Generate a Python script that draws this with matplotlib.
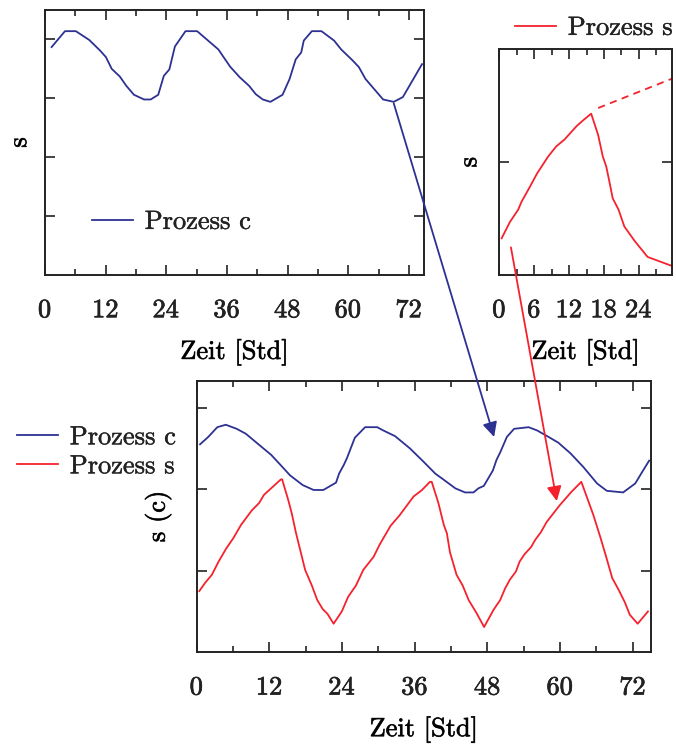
import numpy as np
import matplotlib
matplotlib.use("Agg")
import matplotlib.pyplot as plt
import matplotlib.patheffects as pe
from matplotlib.ticker import MultipleLocator
from matplotlib.patches import ConnectionPatch

# Prozess c, 72 h run (upper left panel)
zeit_c_oben = [1.3, 3.95, 6.1, 8.76, 10.9, 12.05, 13.2, 14.8, 16.1, 17.6, 19.6, 20.9,
               22.4, 23.5, 24.6, 25.7, 27.8, 30.1, 34.3, 36.6, 38.5, 40.4, 41.7, 43.1,
               44.6, 47.0, 48.4, 49.6, 50.7, 51.2, 52.8, 54.7, 57.2, 58.6, 60.9, 62.1,
               63.4, 64.8, 66.9, 69.0, 70.8, 74.6]
s_c_oben = [3.87, 4.14, 4.14, 3.99, 3.81, 3.70, 3.50, 3.37, 3.21, 3.06, 2.98, 2.98,
            3.06, 3.38, 3.49, 3.88, 4.14, 4.14, 3.83, 3.54, 3.36, 3.21, 3.07, 2.98,
            2.94, 3.06, 3.33, 3.66, 3.78, 3.98, 4.14, 4.14, 3.98, 3.83, 3.64, 3.53,
            3.33, 3.19, 2.98, 2.94, 3.02, 3.58]

# Prozess s, first cycle (upper right panel)
zeit_s_oben = [0.4, 1.83, 3.26, 3.83, 5.14, 6.5, 8.4, 9.8, 11.2, 13.3, 14.4, 15.8,
               17.0, 17.8, 18.4, 19.0, 19.5, 20.5, 21.5, 23.3, 25.5, 29.7]
s_s_oben = [0.325, 0.47, 0.58, 0.65, 0.77, 0.90, 1.05, 1.14, 1.20, 1.32, 1.37, 1.43,
            1.24, 1.05, 0.96, 0.81, 0.68, 0.58, 0.43, 0.30, 0.16, 0.08]
zeit_trend = [17.0, 29.7]
s_trend = [1.48, 1.74]

# both processes together (lower panel)
zeit_c = [0.55, 1.9, 3.4, 4.8, 6.6, 8.1, 10.2, 12.3, 13.8, 15.4, 17.5, 19.3, 20.9,
          23.0, 23.5, 24.3, 24.8, 26.1, 27.8, 29.8, 30.8, 32.75, 35.2, 37.4, 39.4,
          40.7, 42.7, 44.3, 45.7, 46.5, 47.4, 48.9, 49.5, 50.1, 51.2, 52.4, 54.8,
          56.2, 58.1, 59.7, 61.7, 63.85, 66.1, 67.7, 70.4, 72.4, 73.7, 74.7]
c_vals = [2.55, 2.64, 2.76, 2.79, 2.74, 2.68, 2.55, 2.42, 2.30, 2.17, 2.05, 1.99, 1.99,
          2.08, 2.19, 2.30, 2.38, 2.63, 2.76, 2.76, 2.72, 2.65, 2.50, 2.34, 2.19,
          2.12, 2.01, 1.96, 1.96, 2.01, 2.04, 2.23, 2.36, 2.45, 2.64, 2.74, 2.76,
          2.72, 2.64, 2.57, 2.44, 2.27, 2.07, 1.98, 1.96, 2.07, 2.23, 2.35]
zeit_s = [0.43, 1.37, 2.5, 3.6, 4.85, 6.05, 7.3, 9.1, 10.3, 11.1, 13.9, 14.1, 15.1,
          15.7, 16.4, 17.1, 17.9, 19.0, 19.9, 20.8, 21.6, 22.6, 23.95, 25.0, 26.3,
          27.5, 29.2, 30.2, 32.0, 33.5, 35.8, 37.2, 38.5, 38.8, 39.9, 40.8, 41.3,
          41.8, 42.9, 43.9, 44.9, 46.2, 47.45, 49.0, 50.1, 50.9, 51.7, 52.7, 53.3,
          54.1, 55.2, 55.9, 56.8, 57.8, 59.9, 61.9, 63.5, 65.5, 66.6, 67.6, 68.6,
          69.7, 70.7, 71.5, 72.8, 74.5]
s_vals = [0.75, 0.85, 0.95, 1.11, 1.27, 1.40, 1.56, 1.74, 1.83, 1.93, 2.12, 2.12, 1.87,
          1.70, 1.46, 1.25, 1.01, 0.82, 0.64, 0.53, 0.47, 0.35, 0.50, 0.68, 0.82,
          1.01, 1.17, 1.32, 1.55, 1.68, 1.91, 1.99, 2.09, 2.09, 1.83, 1.56, 1.46,
          1.23, 0.95, 0.82, 0.64, 0.48, 0.31, 0.52, 0.64, 0.78, 0.89, 0.99, 1.11,
          1.20, 1.29, 1.38, 1.47, 1.60, 1.80, 1.97, 2.09, 1.68, 1.42, 1.17, 0.91,
          0.76, 0.61, 0.46, 0.35, 0.50]

BLAU = "#2d3192"
ROT = "#f5222d"
TEXT = "#222222"
FS = 19
LW = 1.3

plt.rcParams["font.family"] = "cmr10"
plt.rcParams["axes.formatter.use_mathtext"] = True
plt.rcParams["font.size"] = FS
plt.rcParams["text.color"] = TEXT
plt.rcParams["xtick.color"] = TEXT
plt.rcParams["ytick.color"] = TEXT
plt.rcParams["axes.edgecolor"] = TEXT

# slightly heavier strokes for the Computer Modern text
FETT = [pe.withStroke(linewidth=0.5, foreground=TEXT)]
HALBFETT = [pe.withStroke(linewidth=0.3, foreground=TEXT)]


def style_axis(ax, major, minor, yticks, ylabel, ypad):
    """Inward ticks on all four sides, no y tick labels."""
    ax.xaxis.set_major_locator(MultipleLocator(major))
    ax.xaxis.set_minor_locator(MultipleLocator(minor))
    ax.set_yticks(yticks)
    ax.tick_params(which="both", direction="in", top=True, right=True,
                   labelleft=False, width=1.2, pad=17, labelsize=FS)
    ax.tick_params(which="major", length=7)
    ax.tick_params(which="minor", length=4.5)
    for sp in ax.spines.values():
        sp.set_linewidth(1.4)
    ax.set_xlabel("Zeit [Std]", labelpad=12, path_effects=FETT)
    ax.set_ylabel(ylabel, labelpad=ypad, path_effects=FETT)
    for lab in ax.get_xticklabels():
        lab.set_path_effects(FETT)


def add_legend(target, handles, anchor, **kw):
    leg = target.legend(handles=handles, loc="center left", bbox_to_anchor=anchor,
                        frameon=False, borderpad=0, borderaxespad=0,
                        handlelength=1.55, handletextpad=0.45, fontsize=FS, **kw)
    for t in leg.get_texts():
        t.set_path_effects(HALBFETT)
    return leg


def plot_panels():
    fig = plt.figure(figsize=(6.76, 7.44), dpi=100)
    ax_c = fig.add_axes([0.0666, 0.6304, 0.5607, 0.3562])
    ax_s = fig.add_axes([0.7386, 0.6304, 0.2555, 0.3033])
    ax_cs = fig.add_axes([0.2910, 0.1233, 0.6720, 0.3650])

    # upper left: Prozess c
    lc, = ax_c.plot(zeit_c_oben, s_c_oben, color=BLAU, lw=LW, label="Prozess c")
    ax_c.set_xlim(0, 75)
    ax_c.set_ylim(0, 4.5)
    style_axis(ax_c, 12, 6, [1, 2, 3, 4], "s", 10)
    add_legend(ax_c, [lc], (0.136, 0.7016), bbox_transform=fig.transFigure)

    # upper right: Prozess s
    ls_, = ax_s.plot(zeit_s_oben, s_s_oben, color=ROT, lw=LW, label="Prozess s")
    ax_s.plot(zeit_trend, s_trend, color=ROT, lw=LW, ls=(0, (4, 3)))
    ax_s.set_xlim(0, 29.7)
    ax_s.set_ylim(0, 2)
    style_axis(ax_s, 6, 3, [1], "s", 13)
    add_legend(ax_s, [ls_], (0.7618, 0.9624), bbox_transform=fig.transFigure)

    # lower: both processes
    l1, = ax_cs.plot(zeit_c, c_vals, color=BLAU, lw=LW, label="Prozess c")
    l2, = ax_cs.plot(zeit_s, s_vals, color=ROT, lw=LW, label="Prozess s")
    ax_cs.set_xlim(0, 75)
    ax_cs.set_ylim(0, 3.33)
    style_axis(ax_cs, 12, 6, [1, 2, 3], "s (c)", 18)
    add_legend(fig, [l1, l2], (0.0251, 0.3925), labelspacing=0.2)

    # arrows from the single runs into the combined plot
    pfeil_c = ConnectionPatch(xyA=(69.0, 2.915), coordsA=ax_c.transData,
                              xyB=(49.1, 2.64), coordsB=ax_cs.transData,
                              arrowstyle="-|>", color=BLAU, lw=LW,
                              mutation_scale=22, shrinkA=0, shrinkB=0)
    pfeil_s = ConnectionPatch(xyA=(2.0, 0.245), coordsA=ax_s.transData,
                              xyB=(59.45, 1.854), coordsB=ax_cs.transData,
                              arrowstyle="-|>", color=ROT, lw=LW,
                              mutation_scale=22, shrinkA=0, shrinkB=0)
    fig.add_artist(pfeil_c)
    fig.add_artist(pfeil_s)

    fig.savefig("out.png", dpi=100)
    plt.close(fig)


if __name__ == "__main__":
    plot_panels()
